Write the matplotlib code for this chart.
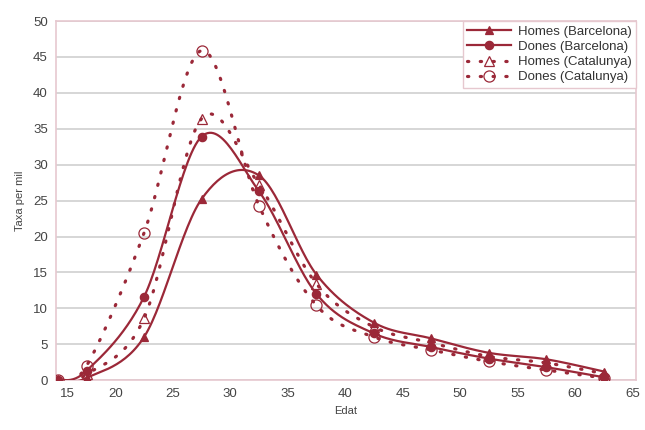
import numpy as np
import matplotlib
matplotlib.use("Agg")
import matplotlib.pyplot as plt
from matplotlib.lines import Line2D
import matplotlib.transforms as mtransforms

plt.rcParams['font.family'] = ['Liberation Sans', 'DejaVu Sans']

edat = [15, 17.5, 22.5, 27.5, 32.5, 37.5, 42.5, 47.5, 52.5, 57.5, 62.5]
homes_bcn = [0, 0.3, 6.0, 25.2, 28.5, 14.7, 8.0, 5.8, 3.8, 2.9, 1.2]
dones_bcn = [0, 1.3, 11.6, 33.9, 26.3, 12.0, 6.5, 4.6, 3.0, 1.8, 0.4]
homes_cat = [0, 0.8, 8.6, 36.4, 27.2, 13.4, 7.4, 5.2, 3.3, 2.4, 0.9]
dones_cat = [0, 2.0, 20.5, 45.9, 24.3, 10.4, 6.0, 4.2, 2.6, 1.4, 0.3]
labels = ["Homes (Barcelona)", "Dones (Barcelona)", "Homes (Catalunya)", "Dones (Catalunya)"]
xticks = [15, 20, 25, 30, 35, 40, 45, 50, 55, 60, 65]
yticks = [0, 5, 10, 15, 20, 25, 30, 35, 40, 45, 50]


def smooth(x, y, n=30):
    """Excel-style smoothed line (cubic Bezier, Catmull-Rom control points)."""
    P = np.column_stack([x, y]).astype(float)
    m = len(P)
    out = [P[0]]
    t = np.linspace(0, 1, n)[1:]
    for i in range(m - 1):
        p0 = P[i - 1] if i > 0 else P[i]
        p1 = P[i]
        p2 = P[i + 1]
        p3 = P[i + 2] if i + 2 < m else P[i + 1]
        c1 = p1 + (p2 - p0) / 6
        c2 = p2 - (p3 - p1) / 6
        seg = ((1 - t) ** 3)[:, None] * p1 + (3 * (1 - t) ** 2 * t)[:, None] * c1 \
            + (3 * (1 - t) * t ** 2)[:, None] * c2 + (t ** 3)[:, None] * p2
        out.extend(seg)
    out = np.array(out)
    return out[:, 0], out[:, 1]


col = "#9B2838"
dot = (0, (0.4, 3.6))
fig = plt.figure(figsize=(6.45, 4.3), dpi=100)
ax = fig.add_axes([0.087, 0.116, 0.899, 0.835])

series = [
    (homes_bcn, '-', '^', col, 5.5),
    (dones_bcn, '-', 'o', col, 6),
    (homes_cat, dot, '^', 'none', 7),
    (dones_cat, dot, 'o', 'none', 8),
]
handles = []
for (vals, ls, mk, fc, ms), lab in zip(series, labels):
    lw = 1.6 if ls == '-' else 2.3
    sx, sy = smooth(edat, vals)
    ax.plot(sx, sy, color=col, lw=lw, linestyle=ls,
            dash_capstyle='round', zorder=3)
    ax.plot(edat, vals, linestyle='none', marker=mk, ms=ms, mfc=fc, mec=col,
            mew=0.9, zorder=4)
    handles.append(Line2D([], [], color=col, lw=lw,
                          linestyle=ls, dash_capstyle='round', marker=mk,
                          ms=ms, mfc=fc, mec=col, mew=0.9))

ax.set_xlim(14.85, 65.3)
ax.set_ylim(0, 50)
ax.set_xticks(xticks)
ax.set_yticks(yticks)
ax.grid(axis='y', color='#d6d6d6', lw=1.4)
ax.set_axisbelow(True)
for s in ax.spines.values():
    s.set_color('#e6c8cf')
    s.set_linewidth(1.2)
ax.tick_params(length=0, labelsize=9.5, colors='#444444', pad=6)
ax.set_xlabel("Edat", fontsize=8, color='#444444', labelpad=4)
ax.set_ylabel("Taxa per mil", fontsize=8, color='#444444', labelpad=6)

# first x tick label is shifted right in the reference
lbl = ax.get_xticklabels()[0]
lbl.set_transform(lbl.get_transform() + mtransforms.ScaledTranslation(10 / 100, 0, fig.dpi_scale_trans))

leg = ax.legend(handles, labels, loc='upper right', fontsize=9.5, frameon=True,
                fancybox=False, edgecolor='#e6c8cf', framealpha=1,
                borderpad=0.35, labelspacing=0.22, handlelength=3.3,
                handletextpad=0.5, borderaxespad=0)
leg.get_frame().set_linewidth(1.0)
for t in leg.get_texts():
    t.set_color('#333333')

fig.savefig("out.png", dpi=100)
